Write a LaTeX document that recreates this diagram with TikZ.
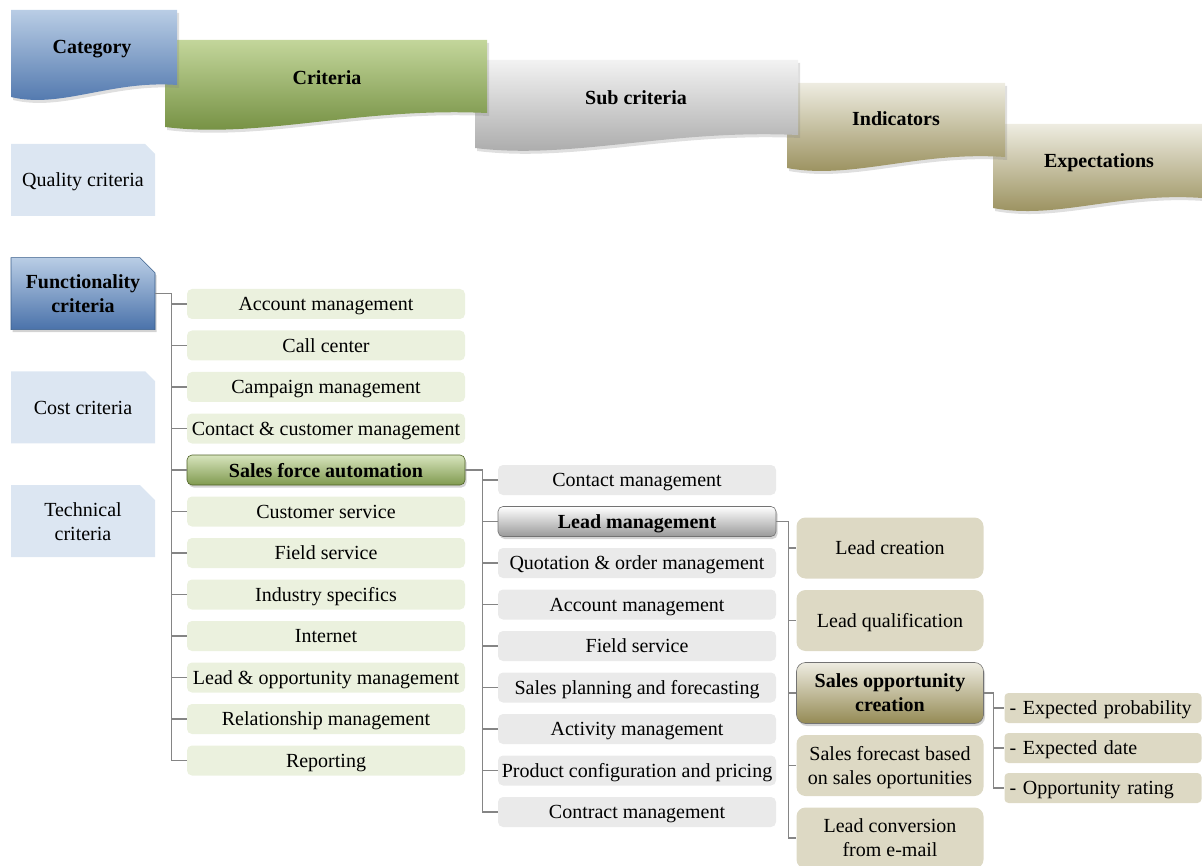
\documentclass[tikz,border=0pt]{standalone}
\usepackage{fontspec}
\setmainfont{Liberation Serif}
\usetikzlibrary{shapes.misc,shadows}
\definecolor{cardblue}{HTML}{DCE6F2}
\definecolor{critgreen}{HTML}{EBF1DE}
\definecolor{subgrey}{HTML}{EAEAEA}
\definecolor{indtan}{HTML}{DDD9C4}
\definecolor{treegrey}{HTML}{858585}
\definecolor{blueTop}{HTML}{B9CDE5}
\definecolor{blueMid}{HTML}{96B4D7}
\definecolor{blueBot}{HTML}{4A72AA}
\definecolor{blueLine}{HTML}{385D8A}
\definecolor{greenTop}{HTML}{D7E4BD}
\definecolor{greenMid}{HTML}{C3D69B}
\definecolor{greenBot}{HTML}{6F8B3C}
\definecolor{greenLine}{HTML}{4F6228}
\definecolor{tanTop}{HTML}{EEECE1}
\definecolor{tanMid}{HTML}{D4CFB4}
\definecolor{tanBot}{HTML}{948A54}
\tikzstyle{card} = [chamfered rectangle, chamfered rectangle corners=north east, chamfered rectangle xsep=12pt, fill=cardblue, minimum width=144pt, minimum height=72pt, inner sep=0pt, align=center, node distance=113.7pt]
\tikzstyle{crit} = [rectangle, rounded corners=5pt, fill=critgreen, minimum width=278pt, minimum height=30pt, inner sep=0pt, node distance=41.5pt]
\tikzstyle{sub} = [crit, fill=subgrey]
\tikzstyle{ind} = [rectangle, rounded corners=9pt, fill=indtan, minimum width=187pt, minimum height=61pt, inner sep=0pt, align=center, node distance=72.5pt]
\tikzstyle{expect} = [rectangle, rounded corners=4pt, fill=indtan, text width=187pt, inner xsep=5pt, minimum height=30pt, align=left, node distance=40pt]
\tikzstyle{pick} = [line width=0.6pt, font=\fontsize{20}{24}\selectfont\bfseries, drop shadow={opacity=0.35, shadow xshift=1.5pt, shadow yshift=-2.5pt}]
\tikzstyle{banner} = [drop shadow={opacity=0.25, shadow xshift=2pt, shadow yshift=-3pt}]
\tikzstyle{head} = [font=\fontsize{20}{24}\selectfont\bfseries]
\tikzstyle{tree} = [draw=treegrey, line width=1.3pt]

\begin{document}
\begin{tikzpicture}[x=1pt, y=-1pt, font=\fontsize{20}{24}\selectfont, every node/.append style={text depth=-3pt}]
    \useasboundingbox (0,0) rectangle (1202,866);

    % Headline banners, back to front
    \shade[banner, top color=tanTop, middle color=tanMid, bottom color=tanBot]
        (993,124) -- (1202,124) -- (1202,198) .. controls (1118,192) and (1056,220) .. (993,208) -- cycle;
    \shade[banner, top color=tanTop, middle color=tanMid, bottom color=tanBot]
        (787,83) -- (1005,83) -- (1005,157) .. controls (918,151) and (852,180) .. (787,168) -- cycle;
    \shade[banner, top color=black!5, middle color=black!15, bottom color=black!35]
        (475,60) -- (798,60) -- (798,135) .. controls (669,129) and (572,160) .. (475,148) -- cycle;
    \shade[banner, top color=greenMid, middle color=greenMid, bottom color=greenBot]
        (165,40) -- (487,40) -- (487,113) .. controls (358,107) and (262,139) .. (165,127) -- cycle;
    \shade[banner, top color=blueTop, middle color=blueMid, bottom color=blueBot]
        (11,10) -- (177,10) -- (177,85) .. controls (111,80) and (61,109) .. (11,97) -- cycle;

    \node [head] (cat) at (92,47) {Category};
    \node [head] (critHead) at (327,78) {Criteria};
    \node [head] (subHead) at (636,98) {Sub criteria};
    \node [head] (indHead) at (896,119) {Indicators};
    \node [head] (expHead) at (1099,161) {Expectations};

    % Categories
    \node [card] (quality) at (83,180) {Quality criteria};
    \node [card, below of=quality, pick, draw=blueLine, top color=blueTop, middle color=blueMid, bottom color=blueBot] (func) {Functionality\\criteria};
    \node [card, below of=func] (cost) {Cost criteria};
    \node [card, below of=cost] (tech) {Technical\\criteria};

    % Criteria
    \node [crit] (c1) at (326,304) {Account management};
    \node [crit, below of=c1] (c2) {Call center};
    \node [crit, below of=c2] (c3) {Campaign management};
    \node [crit, below of=c3] (c4) {Contact \& customer management};
    \node [crit, below of=c4, pick, draw=greenLine, top color=greenTop, middle color=greenMid, bottom color=greenBot!80!greenMid] (c5) {Sales force automation};
    \node [crit, below of=c5] (c6) {Customer service};
    \node [crit, below of=c6] (c7) {Field service};
    \node [crit, below of=c7] (c8) {Industry specifics};
    \node [crit, below of=c8] (c9) {Internet};
    \node [crit, below of=c9] (c10) {Lead \& opportunity management};
    \node [crit, below of=c10] (c11) {Relationship management};
    \node [crit, below of=c11] (c12) {Reporting};

    % Sub criteria
    \node [sub] (s1) at (637,480) {Contact management};
    \node [sub, below of=s1, pick, draw=black!55, top color=white, middle color=black!12, bottom color=black!40] (s2) {Lead management};
    \node [sub, below of=s2] (s3) {Quotation \& order management};
    \node [sub, below of=s3] (s4) {Account management};
    \node [sub, below of=s4] (s5) {Field service};
    \node [sub, below of=s5] (s6) {Sales planning and forecasting};
    \node [sub, below of=s6] (s7) {Activity management};
    \node [sub, below of=s7] (s8) {Product configuration and pricing};
    \node [sub, below of=s8] (s9) {Contract management};

    % Indicators
    \node [ind] (i1) at (890,548) {Lead creation};
    \node [ind, below of=i1] (i2) {Lead qualification};
    \node [ind, below of=i2, pick, draw=black!55, top color=tanTop, middle color=tanMid, bottom color=tanBot] (i3) {Sales opportunity\\creation};
    \node [ind, below of=i3] (i4) {Sales forecast based\\on sales oportunities};
    \node [ind, below of=i4] (i5) {Lead conversion\\from e-mail};

    % Expectations
    \node [expect] (e1) at (1103,708) {- Expected probability};
    \node [expect, below of=e1] (e2) {- Expected date};
    \node [expect, below of=e2] (e3) {- Opportunity rating};

    % Tree lines
    \foreach \n in {c1,c2,c3,c4,c5,c6,c7,c8,c9,c10,c11,c12}
        \draw [tree] (func.east) -- ++(16,0) |- (\n.west);
    \foreach \n in {s1,s2,s3,s4,s5,s6,s7,s8,s9}
        \draw [tree] (c5.east) -- ++(17,0) |- (\n.west);
    \foreach \n in {i1,i2,i3,i4,i5}
        \draw [tree] (s2.east) -- ++(12,0) |- (\n.west);
    \foreach \n in {e1,e2,e3}
        \draw [tree] (i3.east) -- ++(10,0) |- (\n.west);
\end{tikzpicture}
\end{document}
